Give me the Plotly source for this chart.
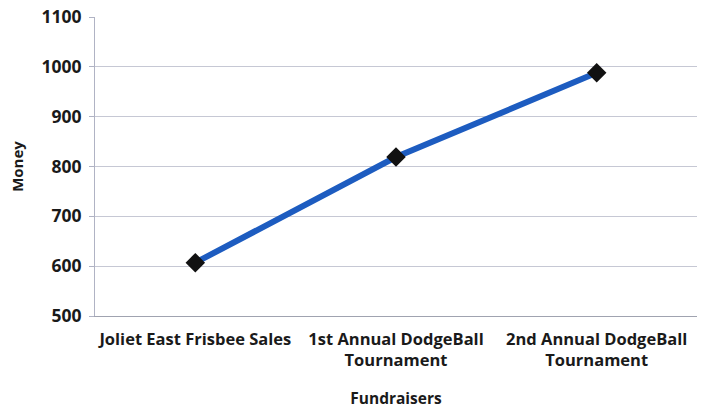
import plotly.graph_objects as go

categories = ["Joliet East Frisbee Sales", "1st Annual DodgeBall<br>Tournament", "2nd Annual DodgeBall<br>Tournament"]
money = [607, 819, 988]

fig = go.Figure()
fig.add_trace(go.Scatter(
    x=categories, y=money, mode="lines+markers",
    line=dict(color="#1d5cc0", width=6),
    marker=dict(symbol="diamond", size=15, color="#111111"),
))
font_family = "Open Sans, Lato, sans-serif"
fig.update_layout(
    width=701, height=409,
    margin=dict(l=95, r=4, t=17, b=93, autoexpand=False),
    paper_bgcolor="white", plot_bgcolor="white",
    showlegend=False,
    font=dict(family=font_family, color="#1a1a1a"),
)
fig.update_xaxes(
    type="category", range=[-0.5, 2.5], showgrid=False, automargin=False,
    showline=True, linecolor="#a0a3b0", linewidth=1,
    tickfont=dict(size=16.5, family=font_family, weight="bold"),
    ticks="", ticklabelstandoff=8,
    title=dict(text="Fundraisers", font=dict(size=15.5, weight="bold"), standoff=22),
)
fig.update_yaxes(
    range=[500, 1100], dtick=100, automargin=False,
    showgrid=True, gridcolor="#c6c8d4", gridwidth=1,
    showline=True, linecolor="#b0b3c4", linewidth=1,
    ticks="outside", ticklen=5, tickcolor="#b0b3c4",
    ticklabelstandoff=4,
    tickfont=dict(size=17.5, family=font_family, weight="bold"),
    title=dict(text="Money", font=dict(size=15, weight="bold"), standoff=14),
    zeroline=False,
)
fig.write_html("out.html")
